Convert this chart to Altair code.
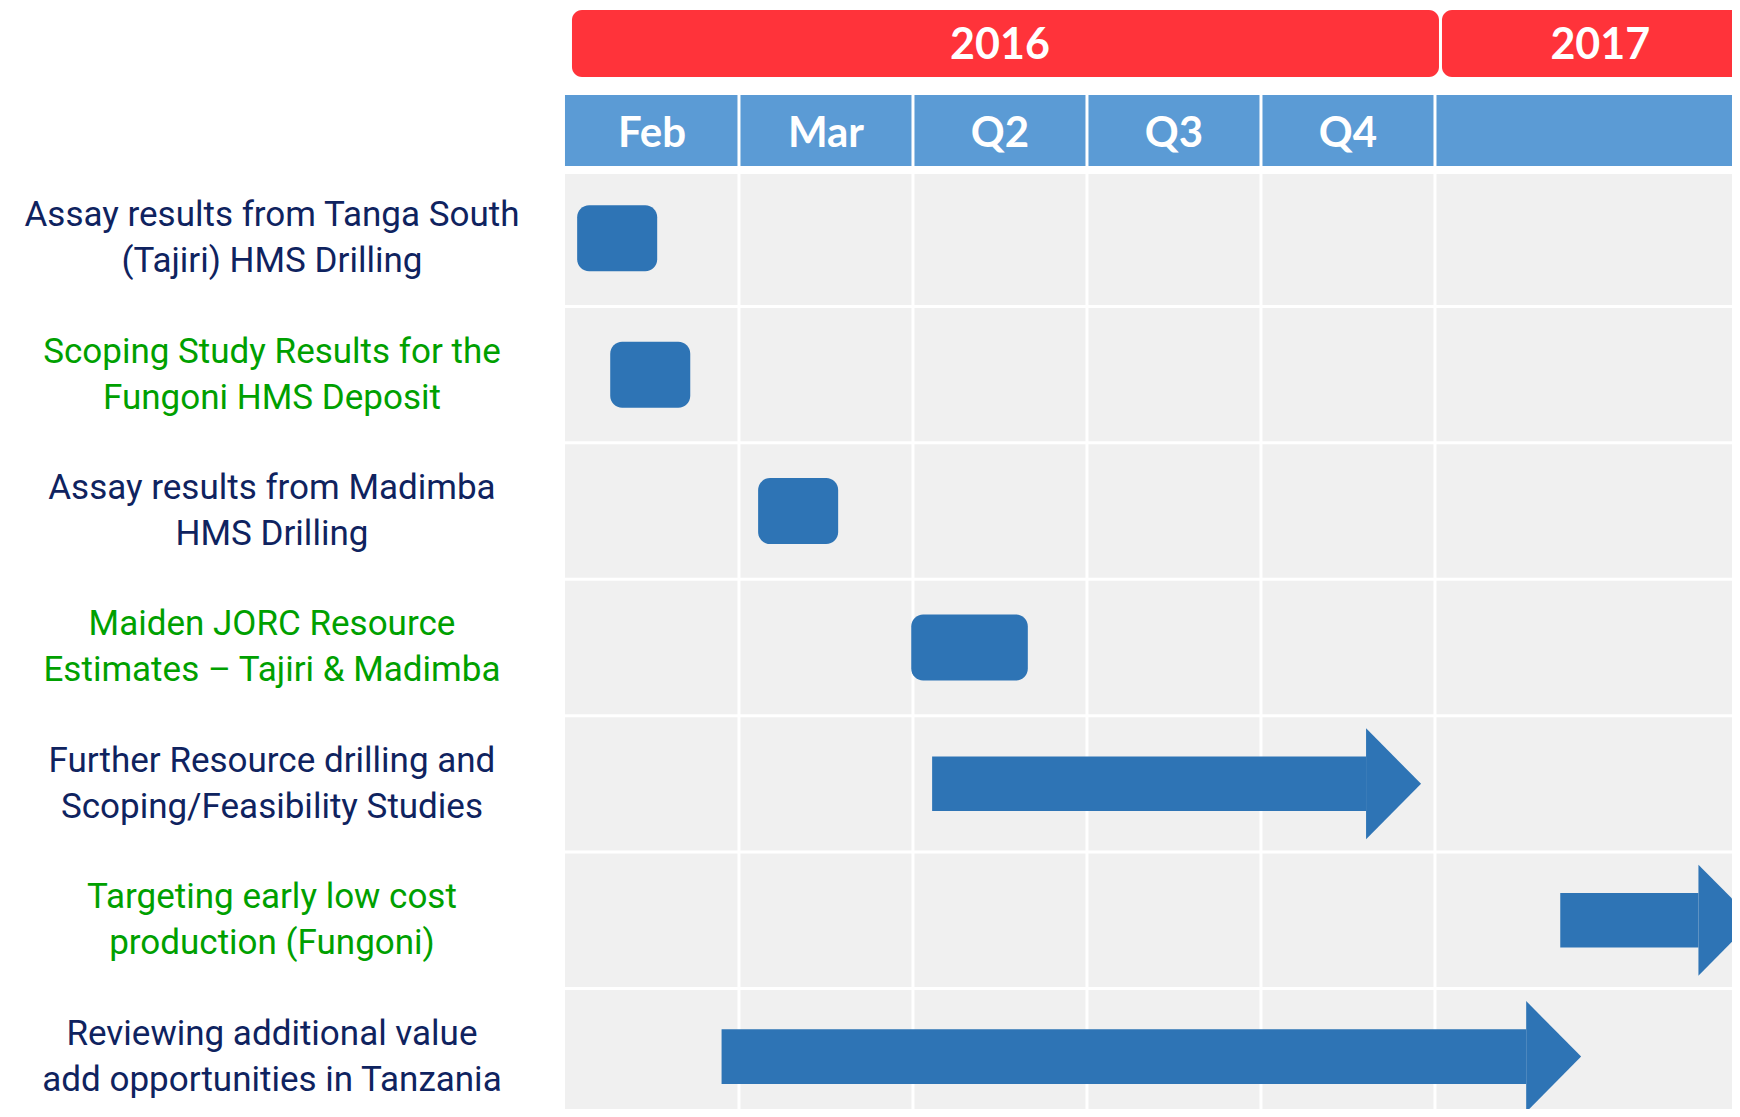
import altair as alt
import pandas as pd

# ---------------- data ----------------
years = ["2016", "2017"]
year_start = [0, 5]
year_end = [5, 6.9]

periods = ["Feb", "Mar", "Q2", "Q3", "Q4", ""]
period_start = [0, 1, 2, 3, 4, 5]
period_end = [1, 2, 3, 4, 5, 7]

tasks = [
    "Assay results from Tanga South\n(Tajiri) HMS Drilling",
    "Scoping Study Results for the\nFungoni HMS Deposit",
    "Assay results from Madimba\nHMS Drilling",
    "Maiden JORC Resource\nEstimates – Tajiri & Madimba",
    "Further Resource drilling and\nScoping/Feasibility Studies",
    "Targeting early low cost\nproduction (Fungoni)",
    "Reviewing additional value\nadd opportunities in Tanzania",
]
task_group = ["Exploration", "Development", "Exploration", "Development",
              "Exploration", "Development", "Exploration"]
task_start = [0.07, 0.26, 1.11, 1.99, 2.11, 5.72, 0.90]
task_end = [0.53, 0.72, 1.57, 2.66, 4.92, 6.83, 5.84]
task_shape = ["box", "box", "box", "box", "arrow", "arrow", "arrow"]

# ---------------- style / layout ----------------
W, H = 1724, 1101
X_MIN, X_MAX = -3.201, 6.707
Y_MIN, Y_MAX = -1.188, 6.884
RED = "#FF333A"
HEAD_BLUE = "#5B9BD5"
BAR_BLUE = "#2E74B5"
GRID_GRAY = "#F0F0F0"
NAVY = "#0F235F"
GREEN = "#00A000"
LABEL_X = -1.684
BOX_HALF = 0.242
BODY_HALF = 0.20
HEAD_HALF = 0.407
HEAD_LEN = 0.316
LABEL_LINE = 46

xs = alt.Scale(domain=[X_MIN, X_MAX], nice=False, zero=False)
ys = alt.Scale(domain=[Y_MIN, Y_MAX], nice=False, zero=False, reverse=True)

# ---------------- tables ----------------
year_df = pd.DataFrame({"year": years, "start": year_start, "end": year_end})
year_df["mid"] = (year_df["start"] + year_df["end"]) / 2

period_df = pd.DataFrame({"period": periods, "start": period_start, "end": period_end})
period_df["mid"] = period_df["start"] + 0.5

n_rows = len(tasks)
task_df = pd.DataFrame({
    "task": tasks, "group": task_group, "start": task_start,
    "end": task_end, "shape": task_shape, "row": list(range(n_rows)),
})
task_df["center"] = task_df["row"] + 0.5
task_df["color"] = task_df["group"].map({"Exploration": NAVY, "Development": GREEN})
task_df["lx"] = LABEL_X

box_df = task_df[task_df["shape"] == "box"].copy()
box_df["y0"] = box_df["center"] - BOX_HALF
box_df["y1"] = box_df["center"] + BOX_HALF

arrow_df = task_df[task_df["shape"] == "arrow"].copy()
arrow_df["base"] = arrow_df["end"] - HEAD_LEN
arrow_df["y0"] = arrow_df["center"] - BODY_HALF
arrow_df["y1"] = arrow_df["center"] + BODY_HALF

head_rows = []
for _, r in arrow_df.iterrows():
    head_rows.append({"task": r["task"], "x": r["base"],
                      "yt": r["center"] - HEAD_HALF, "yb": r["center"] + HEAD_HALF})
    head_rows.append({"task": r["task"], "x": r["end"],
                      "yt": r["center"], "yb": r["center"]})
head_df = pd.DataFrame(head_rows)

col_lines = pd.DataFrame({"x": period_start[1:]})
row_lines = pd.DataFrame({"y": list(range(1, n_rows)), "x0": 0, "x1": period_end[-1]})

# ---------------- layers ----------------
red_bars = alt.Chart(year_df).mark_rect(
    color=RED, cornerRadius=10, xOffset=7, x2Offset=4, clip=True
).encode(
    x=alt.X("start:Q", scale=xs, axis=None), x2="end:Q",
    y=alt.value(2), y2=alt.value(69),
)
red_text = alt.Chart(year_df).mark_text(
    font="Lato", fontWeight="bold", fontSize=43, color="white",
    baseline="middle", align="center", dy=2
).encode(x=alt.X("mid:Q", scale=xs, axis=None), y=alt.value(36), text="year:N")

head_bars = alt.Chart(period_df).mark_rect(color=HEAD_BLUE, clip=True).encode(
    x=alt.X("start:Q", scale=xs, axis=None), x2="end:Q",
    y=alt.value(87), y2=alt.value(158),
)
head_text = alt.Chart(period_df).mark_text(
    font="Lato", fontWeight="bold", fontSize=42, color="white",
    baseline="middle", align="center", dy=3
).encode(x=alt.X("mid:Q", scale=xs, axis=None), y=alt.value(123), text="period:N")

gray = alt.Chart(period_df).mark_rect(color=GRID_GRAY, clip=True).encode(
    x=alt.X("start:Q", scale=xs, axis=None), x2="end:Q",
    y=alt.value(166), y2=alt.value(H),
)
vlines = alt.Chart(col_lines).mark_rule(color="white", strokeWidth=3).encode(
    x=alt.X("x:Q", scale=xs, axis=None), y=alt.value(87), y2=alt.value(H),
)
hlines = alt.Chart(row_lines).mark_rule(color="white", strokeWidth=3, clip=True).encode(
    x=alt.X("x0:Q", scale=xs, axis=None), x2="x1:Q",
    y=alt.Y("y:Q", scale=ys, axis=None),
)

boxes = alt.Chart(box_df).mark_rect(color=BAR_BLUE, cornerRadius=12).encode(
    x=alt.X("start:Q", scale=xs, axis=None), x2="end:Q",
    y=alt.Y("y0:Q", scale=ys, axis=None), y2="y1:Q",
)
bodies = alt.Chart(arrow_df).mark_rect(color=BAR_BLUE, clip=True).encode(
    x=alt.X("start:Q", scale=xs, axis=None), x2="base:Q",
    y=alt.Y("y0:Q", scale=ys, axis=None), y2="y1:Q",
)
heads = alt.Chart(head_df).mark_area(color=BAR_BLUE, clip=True, orient="vertical").encode(
    x=alt.X("x:Q", scale=xs, axis=None),
    y=alt.Y("yt:Q", scale=ys, axis=None), y2="yb:Q",
    detail="task:N",
)

labels = alt.Chart(task_df).mark_text(
    font="Roboto", fontSize=35, lineHeight=LABEL_LINE, lineBreak="\n",
    align="center", baseline="middle", dy=-LABEL_LINE / 2,
).encode(
    x=alt.X("lx:Q", scale=xs, axis=None),
    y=alt.Y("center:Q", scale=ys, axis=None),
    text="task:N", color=alt.Color("color:N", scale=None),
)

chart = alt.layer(
    red_bars, red_text, head_bars, gray, vlines, hlines, head_text,
    boxes, bodies, heads, labels,
).properties(
    width=W, height=H, padding=0, background="white",
    autosize=alt.AutoSizeParams(type="none"),
).configure_view(strokeWidth=0)

chart.save("out.html", embed_options={"renderer": "svg", "actions": False})
